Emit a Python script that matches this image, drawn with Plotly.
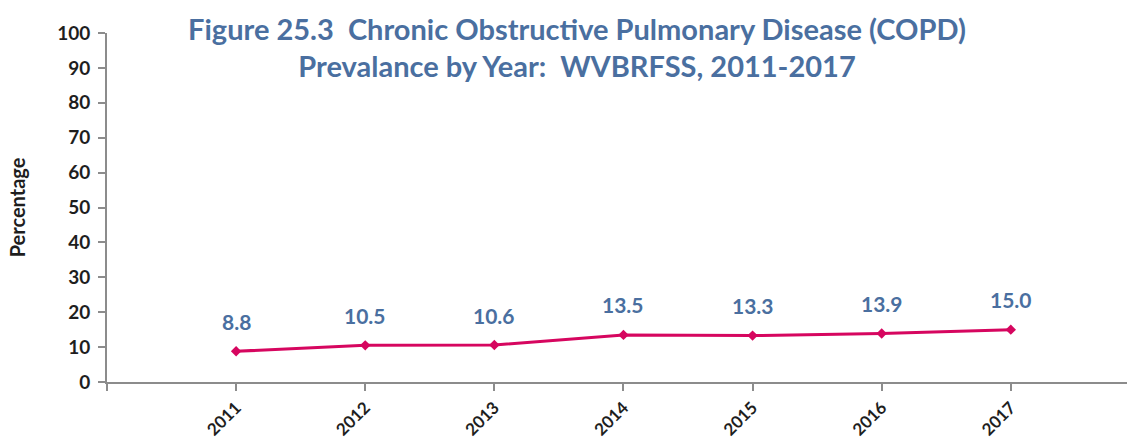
import plotly.graph_objects as go

years = [2011, 2012, 2013, 2014, 2015, 2016, 2017]
copd_pct = [8.8, 10.5, 10.6, 13.5, 13.3, 13.9, 15.0]
y_ticks = [0, 10, 20, 30, 40, 50, 60, 70, 80, 90, 100]

line_color = "#D6065F"
label_color = "#4A6FA0"
axis_color = "#8C8C8C"
text_dark = "#1E1E1E"

fig = go.Figure()
fig.add_trace(go.Scatter(
    x=years,
    y=copd_pct,
    mode="lines+markers",
    line=dict(color=line_color, width=3),
    marker=dict(symbol="diamond", size=8, color=line_color),
    cliponaxis=False,
    showlegend=False,
))

# value labels above each point
for yr, v in zip(years, copd_pct):
    fig.add_annotation(
        x=yr, y=v, text=f"{v:.1f}", showarrow=False,
        yshift=30, xanchor="center", yanchor="middle",
        font=dict(family="Lato", size=21, color=label_color, weight="bold"),
    )

fig.update_layout(
    width=1127,
    height=439,
    margin=dict(l=107, r=0, t=33, b=57),
    paper_bgcolor="white",
    plot_bgcolor="white",
    title=dict(
        text="Figure 25.3  Chronic Obstructive Pulmonary Disease (COPD)<br>Prevalance by Year:  WVBRFSS, 2011-2017",
        x=0.512, xanchor="center", y=0.91, yanchor="middle",
        font=dict(family="Lato", size=29, color=label_color, weight="bold"),
    ),
    xaxis=dict(
        range=[2010, 2017.9],
        tickvals=[2010] + years,
        ticktext=[""] + [str(y) for y in years],
        tickangle=-45,
        automargin=False,
        ticks="outside", ticklen=7, tickcolor=axis_color, tickwidth=1.5,
        ticklabelstandoff=0,
        showline=True, linecolor=axis_color, linewidth=2,
        showgrid=False, zeroline=False,
        tickfont=dict(family="Lato", size=17, color=text_dark, weight="bold"),
    ),
    yaxis=dict(
        range=[0, 100],
        tickvals=y_ticks,
        automargin=False,
        ticks="outside", ticklen=7, tickcolor=axis_color, tickwidth=1.5,
        ticklabelstandoff=4,
        showline=True, linecolor=axis_color, linewidth=2,
        showgrid=False, zeroline=False,
        tickfont=dict(family="Lato", size=19, color=text_dark, weight="bold"),
        title=dict(text="Percentage", standoff=26,
                   font=dict(family="Lato", size=20, color=text_dark, weight="bold")),
    ),
)

fig.write_html("out.html")
